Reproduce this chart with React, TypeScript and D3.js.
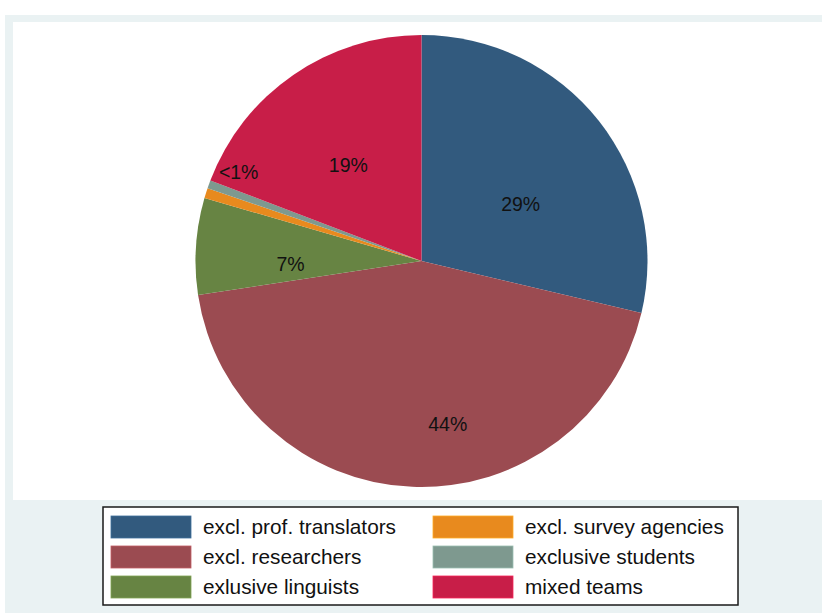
import React from "react";
import * as d3 from "d3";

const categories = [
  "excl. prof. translators",
  "excl. researchers",
  "exlusive linguists",
  "excl. survey agencies",
  "exclusive students",
  "mixed teams",
];
const shares = [28.7, 43.9, 6.9, 0.72, 0.58, 19.2];
const pctLabels = ["29%", "44%", "7%", "<1%", "", "19%"];
const colors = ["#325A7E", "#9B4B51", "#678443", "#E88A1E", "#7E998F", "#C81E48"];
// label layout: radius fraction and angle shift (degrees) relative to slice bisector
const labelRadius = [0.505, 0.73, 0.58, 0.9, 0, 0.535];
const labelShift = [8.7, -11.5, -5.1, 8.5, 0, -2.7];

const W = 822;
const H = 613;

export default function App() {
  const cx = 421.5;
  const cy = 261;
  const R = 226;
  const pie = d3.pie<number>().sort(null).value((d) => d)(shares);
  const arc = d3.arc<d3.PieArcDatum<number>>().innerRadius(0).outerRadius(R);
  const font = "'Liberation Sans', Arial, Helvetica, sans-serif";

  const legendX = 103;
  const legendY = 507;
  const legendW = 635;
  const legendH = 98;
  const rowY = d3.scaleBand<number>().domain([0, 1, 2]).range([legendY + 5, legendY + legendH - 3]);
  const colX = [111, 433];

  return (
    <svg
      width={W}
      height={H}
      style={{ position: "absolute", left: 0, top: 0, display: "block" }}
    >
      <rect x={0} y={0} width={W} height={H} fill="#ffffff" />
      <rect x={5} y={15} width={W - 5} height={H - 15} fill="#EAF2F3" />
      <rect x={13} y={22} width={W - 13} height={478} fill="#ffffff" />
      <g transform={`translate(${cx},${cy})`}>
        {pie.map((p, i) => (
          <path key={i} d={arc(p) || ""} fill={colors[i]} />
        ))}
        {pie.map((p, i) => {
          if (!pctLabels[i]) return null;
          const a = (p.startAngle + p.endAngle) / 2 + (labelShift[i] * Math.PI) / 180;
          const d = labelRadius[i] * R;
          const x = d * Math.sin(a);
          const y = -d * Math.cos(a);
          return (
            <text
              key={"l" + i}
              x={x}
              y={y}
              dy="0.35em"
              textAnchor="middle"
              fontFamily={font}
              fontSize={19.5}
              fill="#111"
            >
              {pctLabels[i]}
            </text>
          );
        })}
      </g>
      <rect
        x={legendX}
        y={legendY}
        width={legendW}
        height={legendH}
        fill="#ffffff"
        stroke="#1a1a1a"
        strokeWidth={1.5}
      />
      {categories.map((c, i) => {
        const col = Math.floor(i / 3);
        const row = i % 3;
        const y0 = rowY(row)!;
        const bh = rowY.bandwidth();
        const sy = y0 + (bh - 22) / 2;
        return (
          <g key={"lg" + i}>
            <rect
              x={colX[col]}
              y={sy}
              width={80}
              height={22}
              fill={colors[i]}
              stroke={d3.color(colors[i])!.brighter(0.6).formatHex()}
              strokeWidth={0.8}
            />
            <text
              x={colX[col] + 92}
              y={sy + 11}
              dy="0.36em"
              fontFamily={font}
              fontSize={20.8}
              fill="#111"
            >
              {c}
            </text>
          </g>
        );
      })}
    </svg>
  );
}
